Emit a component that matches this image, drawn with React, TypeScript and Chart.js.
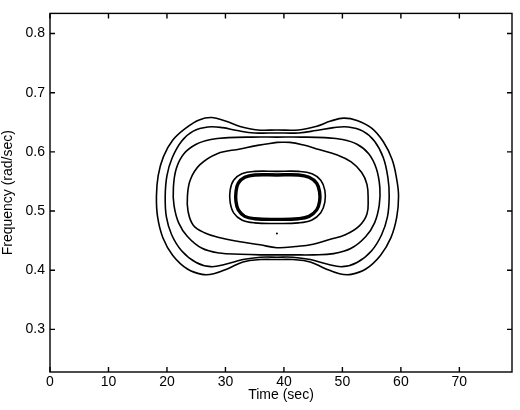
import { useEffect, useRef } from "react";
import { Chart, registerables } from "chart.js";

Chart.register(...registerables);

const xTicks = [0, 10, 20, 30, 40, 50, 60, 70];
const yTicks = [0.3, 0.4, 0.5, 0.6, 0.7, 0.8];
const xMin = 0;
const xMax = 79;
const yMin = 0.228;
const yMax = 0.834;

type Pt = [number, number];

// outermost contour (peanut shape)
const contour1: Pt[] = [
  [38.8, 0.637], [42.5, 0.637], [45.5, 0.643], [48.0, 0.652], [50.2, 0.657],
  [52.5, 0.653], [55.0, 0.640], [57.0, 0.617], [58.5, 0.587], [59.3, 0.553],
  [59.6, 0.525], [59.3, 0.490], [58.3, 0.455], [56.5, 0.425], [54.0, 0.402],
  [51.5, 0.393], [49.5, 0.394], [47.0, 0.403], [44.5, 0.414], [41.5, 0.418],
  [38.8, 0.418], [36.0, 0.418], [33.0, 0.414], [30.5, 0.403], [28.0, 0.394],
  [26.0, 0.393], [23.5, 0.402], [21.0, 0.425], [19.3, 0.455], [18.4, 0.490],
  [18.2, 0.525], [18.5, 0.560], [19.4, 0.592], [21.0, 0.620], [23.2, 0.640],
  [25.5, 0.654], [27.7, 0.658], [30.0, 0.652], [32.5, 0.643], [35.5, 0.637],
  [38.8, 0.637],
];

const contour2: Pt[] = [
  [38.8, 0.632], [42.5, 0.632], [45.5, 0.636], [48.5, 0.641], [51.0, 0.642],
  [53.5, 0.635], [55.5, 0.618], [57.0, 0.590], [57.8, 0.555], [58.0, 0.525],
  [57.7, 0.490], [56.7, 0.460], [55.0, 0.433], [52.5, 0.413], [50.0, 0.406],
  [47.5, 0.410], [44.5, 0.418], [41.5, 0.422], [38.8, 0.422], [36.0, 0.422],
  [33.0, 0.418], [30.0, 0.410], [27.5, 0.406], [25.0, 0.413], [22.5, 0.433],
  [20.8, 0.460], [19.9, 0.490], [19.7, 0.525], [20.0, 0.560], [20.9, 0.590],
  [22.5, 0.618], [24.5, 0.635], [27.0, 0.642], [29.5, 0.641], [32.0, 0.636],
  [35.0, 0.632], [38.8, 0.632],
];

const contour3: Pt[] = [
  [38.8, 0.625], [43.0, 0.625], [47.0, 0.624], [50.0, 0.621], [52.5, 0.613],
  [54.5, 0.597], [55.8, 0.572], [56.4, 0.540], [56.3, 0.510], [55.5, 0.480],
  [54.0, 0.457], [51.5, 0.437], [48.5, 0.428], [45.0, 0.426], [41.5, 0.426],
  [38.8, 0.426], [36.0, 0.426], [32.5, 0.427], [29.0, 0.429], [26.0, 0.437],
  [23.5, 0.457], [22.0, 0.480], [21.2, 0.510], [21.1, 0.540], [21.6, 0.572],
  [22.9, 0.597], [25.0, 0.613], [27.5, 0.621], [30.5, 0.624], [34.5, 0.625],
  [38.8, 0.625],
];

const contour4: Pt[] = [
  [38.8, 0.616], [41.0, 0.616], [43.2, 0.612], [46.0, 0.604], [49.0, 0.595],
  [51.5, 0.583], [53.3, 0.565], [54.2, 0.545], [54.4, 0.520], [54.2, 0.495],
  [52.9, 0.475], [50.5, 0.460], [47.8, 0.452], [45.0, 0.444], [42.0, 0.440],
  [38.8, 0.438], [35.9, 0.443], [32.5, 0.448], [29.1, 0.455], [26.5, 0.463],
  [24.5, 0.476], [23.6, 0.500], [23.5, 0.525], [24.0, 0.553], [25.6, 0.578],
  [28.6, 0.597], [32.5, 0.605], [35.5, 0.611], [38.8, 0.616],
];

const contour5: Pt[] = [
  [38.8, 0.567], [42.5, 0.567], [44.8, 0.563], [46.3, 0.552], [47.0, 0.535],
  [47.0, 0.515], [46.3, 0.497], [44.8, 0.485], [42.5, 0.480], [38.8, 0.479],
  [35.0, 0.480], [32.8, 0.485], [31.4, 0.497], [30.8, 0.515], [30.8, 0.535],
  [31.4, 0.552], [32.8, 0.563], [35.0, 0.567], [38.8, 0.567],
];

const contour6: Pt[] = [
  [38.8, 0.561], [42.5, 0.561], [44.3, 0.557], [45.6, 0.547], [46.1, 0.532],
  [46.1, 0.516], [45.6, 0.502], [44.3, 0.491], [42.5, 0.487], [38.8, 0.486],
  [35.0, 0.487], [33.3, 0.491], [32.2, 0.502], [31.8, 0.516], [31.8, 0.532],
  [32.2, 0.547], [33.3, 0.557], [35.0, 0.561], [38.8, 0.561],
];

const speck: Pt[] = [[38.8, 0.462]];

const FONT = "'Liberation Sans', Arial, Helvetica, sans-serif";

export default function App() {
  const ref = useRef<HTMLCanvasElement>(null);

  useEffect(() => {
    document.body.style.margin = "0";
    const toXY = (pts: Pt[]) => pts.map(([x, y]) => ({ x, y }));
    const line = (pts: Pt[], w: number) => ({
      data: toXY(pts),
      showLine: true,
      borderColor: "#000",
      borderWidth: w,
      pointRadius: 0,
      tension: 0.4,
      fill: false,
    });

    const framePlugin = {
      id: "frame",
      afterDraw(chart: any) {
        const { ctx, chartArea: a, scales } = chart;
        ctx.save();
        ctx.strokeStyle = "#000";
        ctx.lineWidth = 1.4;
        ctx.strokeRect(a.left, a.top, a.right - a.left, a.bottom - a.top);
        const L = 5;
        ctx.beginPath();
        for (const v of xTicks) {
          const px = scales.x.getPixelForValue(v);
          ctx.moveTo(px, a.bottom);
          ctx.lineTo(px, a.bottom - L);
          ctx.moveTo(px, a.top);
          ctx.lineTo(px, a.top + L);
        }
        for (const v of yTicks) {
          const py = scales.y.getPixelForValue(v);
          ctx.moveTo(a.left, py);
          ctx.lineTo(a.left + L, py);
          ctx.moveTo(a.right, py);
          ctx.lineTo(a.right - L, py);
        }
        ctx.stroke();
        ctx.restore();
      },
    };

    const chart = new Chart(ref.current!, {
      type: "scatter",
      data: {
        datasets: [
          line(contour1, 1.6),
          line(contour2, 1.6),
          line(contour3, 1.6),
          line(contour4, 1.6),
          line(contour5, 1.6),
          line(contour6, 3.4),
          {
            data: toXY(speck),
            pointRadius: 1,
            pointBackgroundColor: "#000",
            pointBorderWidth: 0,
            showLine: false,
          } as any,
        ],
      },
      plugins: [framePlugin],
      options: {
        responsive: false,
        animation: false,
        events: [],
        layout: { padding: { left: 0, right: 8, top: 9, bottom: 0 } },
        plugins: { legend: { display: false }, tooltip: { enabled: false } },
        scales: {
          x: {
            type: "linear",
            min: xMin,
            max: xMax,
            afterBuildTicks: (s: any) => {
              s.ticks = xTicks.map((v) => ({ value: v }));
            },
            afterFit: (s: any) => {
              s.height = 38;
            },
            grid: { display: false, drawTicks: false },
            border: { display: false },
            ticks: {
              padding: 2,
              color: "#000",
              font: { family: FONT, size: 14 },
              callback: (v: any) => String(v),
            },
            title: {
              display: true,
              text: "Time (sec)",
              color: "#000",
              font: { family: FONT, size: 14 },
              padding: { top: 0, bottom: 6 },
            },
          },
          y: {
            type: "linear",
            min: yMin,
            max: yMax,
            afterBuildTicks: (s: any) => {
              s.ticks = yTicks.map((v) => ({ value: v }));
            },
            afterFit: (s: any) => {
              s.width = 50;
            },
            grid: { display: false, drawTicks: false },
            border: { display: false },
            ticks: {
              padding: 5,
              color: "#000",
              font: { family: FONT, size: 14 },
              callback: (v: any) => Number(v).toFixed(1),
            },
            title: {
              display: true,
              text: "Frequency (rad/sec)",
              color: "#000",
              font: { family: FONT, size: 14 },
              padding: { top: 0, bottom: 0 },
            },
          },
        },
      },
    });
    return () => chart.destroy();
  }, []);

  return (
    <div style={{ width: 520, height: 410 }}>
      <canvas ref={ref} width={520} height={410} style={{ display: "block" }} />
    </div>
  );
}
